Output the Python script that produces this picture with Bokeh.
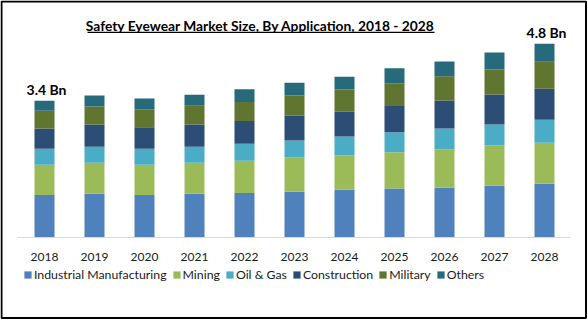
from bokeh.plotting import figure
from bokeh.models import (ColumnDataSource, Legend, LegendItem, Label, BoxAnnotation,
                          FactorRange, Range1d)
from bokeh.embed import file_html
from bokeh.resources import INLINE
from bokeh.core.properties import value

years = ["2018", "2019", "2020", "2021", "2022", "2023", "2024", "2025", "2026", "2027", "2028"]
segments = ["Industrial Manufacturing", "Mining", "Oil & Gas", "Construction", "Military", "Others"]
industrial = [1.06, 1.09, 1.06, 1.09, 1.11, 1.14, 1.19, 1.22, 1.24, 1.29, 1.34]
mining = [0.75, 0.77, 0.75, 0.77, 0.80, 0.85, 0.85, 0.90, 0.95, 1.00, 1.02]
oil_gas = [0.40, 0.40, 0.40, 0.40, 0.42, 0.42, 0.47, 0.50, 0.52, 0.52, 0.57]
construction = [0.50, 0.55, 0.53, 0.55, 0.57, 0.62, 0.62, 0.65, 0.70, 0.75, 0.77]
military = [0.44, 0.45, 0.45, 0.47, 0.47, 0.50, 0.55, 0.57, 0.60, 0.62, 0.67]
others = [0.25, 0.27, 0.27, 0.27, 0.32, 0.32, 0.32, 0.37, 0.37, 0.42, 0.45]
value_labels = ["3.4 Bn", "", "", "", "", "", "", "", "", "", "4.8 Bn"]

colors = ["#4F81BD", "#9BBB59", "#4BACC6", "#2C4D75", "#5F7530", "#276A7C"]
keys = ["industrial", "mining", "oil_gas", "construction", "military", "others"]

FONT = "Lato"

# layout constants (pixels)
W, H = 588, 321
BASE_Y = 237          # baseline of bars, from top
PX_PER_BN = 40.2      # vertical scale
LEFT_PAD = 19         # left gap before first category slot
SLOT = 50.0           # px per category


def px2x(px):
    return (px - LEFT_PAD) / SLOT


def px2y(py):
    return (BASE_Y - py) / PX_PER_BN


data = dict(years=years, industrial=industrial, mining=mining, oil_gas=oil_gas,
            construction=construction, military=military, others=others)
source = ColumnDataSource(data)

totals = [sum(v) for v in zip(industrial, mining, oil_gas, construction, military, others)]
lab_src = ColumnDataSource(dict(years=years, total=totals, text=value_labels))
tick_src = ColumnDataSource(dict(years=years, base=[0] * len(years)))

pad = LEFT_PAD / SLOT
p = figure(width=W, height=H,
           x_range=FactorRange(*years, range_padding=pad, range_padding_units="absolute"),
           y_range=Range1d(px2y(H), px2y(0)), output_backend="svg", toolbar_location=None,
           x_axis_location=None, y_axis_location=None,
           min_border_left=0, min_border_right=0, min_border_top=0, min_border_bottom=0)
p.outline_line_color = None
p.background_fill_color = "white"
p.border_fill_color = "white"
p.grid.visible = False

renderers = p.vbar_stack(keys, x="years", width=0.4, color=colors, source=source, line_width=0)

# axis line
p.segment(x0=[px2x(17)], y0=[0], x1=[px2x(570)], y1=[0], line_color="#D9D9D9", line_width=1)

# year labels
p.text(x="years", y="base", text="years", source=tick_src, text_align="center",
       text_baseline="middle", y_offset=19, text_font=value(FONT),
       text_font_size="12px", text_color="#1a1a1a")

# value labels
p.text(x="years", y="total", text="text", source=lab_src, text_align="center",
       text_baseline="bottom", y_offset=-3, x_offset=2, text_font=value(FONT),
       text_font_style="bold", text_font_size="14px", text_color="#000000")

items = [LegendItem(label=s, renderers=[r]) for s, r in zip(segments, renderers)]
legend = Legend(items=items, orientation="horizontal", location=(23, H - 282),
                glyph_width=9, glyph_height=9, label_standoff=2, spacing=5,
                padding=0, margin=0, border_line_color=None, background_fill_alpha=0,
                label_text_font=FONT, label_text_font_size="12.3px", label_text_color="#1a1a1a",
                label_height=14)
p.add_layout(legend)

title = Label(x=260, y=H - 25, x_units="screen", y_units="screen",
              text="Safety Eyewear Market Size, By Application, 2018 - 2028",
              text_align="center", text_baseline="middle", text_font=FONT,
              text_font_style="bold", text_font_size="13.8px", text_color="#000000")
p.add_layout(title)

underline = BoxAnnotation(left=px2x(87), right=px2x(434), top=px2y(31.3), bottom=px2y(32.6),
                          fill_color="#000000", fill_alpha=1, line_color=None)
p.add_layout(underline)

frame_border = BoxAnnotation(left=px2x(1), right=px2x(585.5), top=px2y(1), bottom=px2y(317.5),
                             fill_alpha=0, line_color="#000000", line_width=2, line_alpha=1)
p.add_layout(frame_border)

open("out.html", "w").write(file_html(p, INLINE))
